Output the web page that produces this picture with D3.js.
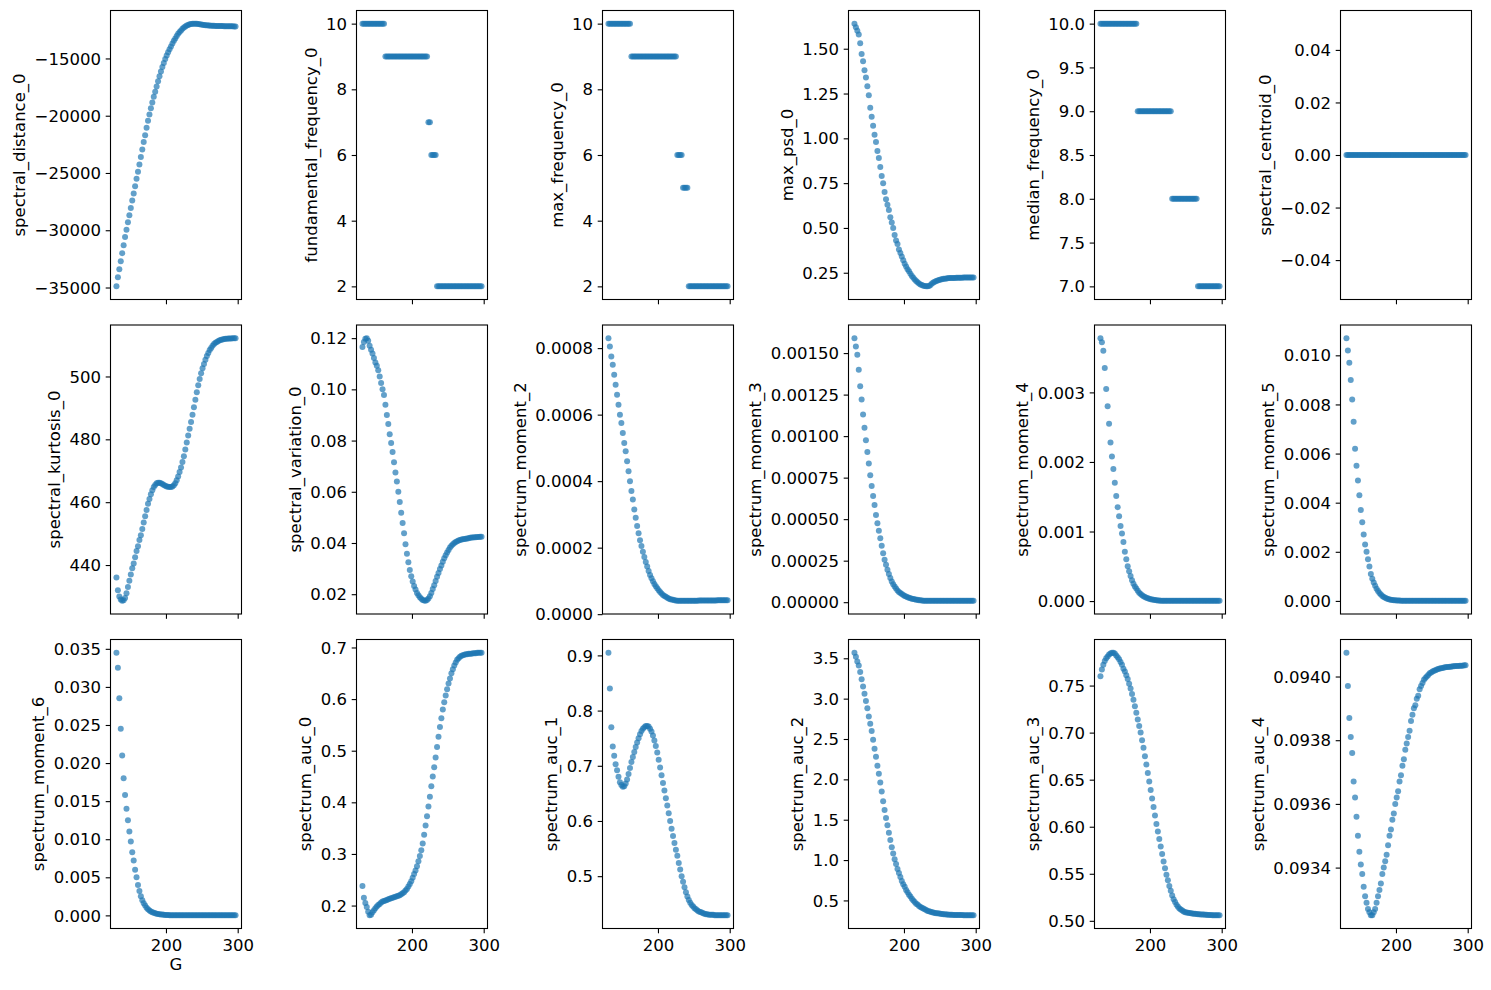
<!DOCTYPE html>
<html>
<head>
<meta charset="utf-8">
<script src="https://cdn.jsdelivr.net/npm/d3@7"></script>
<style>
  body { margin: 0; background: #fff; }
  svg { display: block; }
</style>
</head>
<body>
<div id="chart"></div>
<script>
// G values shared by every panel
const G = [131,133,135,137,139,141,143,145,147,149,151,153,
  155,157,159,161,163,165,167,169,171,173,175,177,
  179,181,183,185,187,189,191,193,195,197,199,201,
  203,205,207,209,211,213,215,217,219,221,223,225,
  227,229,231,233,235,237,239,241,243,245,247,249,
  251,253,255,257,259,261,263,265,267,269,271,273,
  275,277,279,281,283,285,287,289,291,293,295,297];

const spectral_distance_0 = [-34900,-34100,-33400,-32700,-32000,-31300,-30600,-29950,-29300,-28700,-28050,-27400,
  -26800,-26150,-25500,-24900,-24250,-23600,-22950,-22300,-21700,-21050,-20450,-19900,
  -19350,-18850,-18350,-17900,-17450,-17000,-16550,-16150,-15750,-15400,-15050,-14750,
  -14450,-14200,-13950,-13700,-13450,-13250,-13050,-12850,-12700,-12550,-12400,-12300,
  -12200,-12130,-12070,-12020,-11990,-11970,-11960,-11960,-11970,-11990,-12010,-12040,
  -12060,-12080,-12100,-12110,-12120,-12130,-12140,-12150,-12150,-12160,-12160,-12160,
  -12170,-12170,-12170,-12180,-12180,-12180,-12180,-12190,-12190,-12190,-12200,-12200];

const fundamental_frequency_0 = [10,10,10,10,10,10,10,10,10,10,10,10,
  10,10,10,10,9,9,9,9,9,9,9,9,
  9,9,9,9,9,9,9,9,9,9,9,9,
  9,9,9,9,9,9,9,9,9,9,7,7,
  6,6,6,6,2,2,2,2,2,2,2,2,
  2,2,2,2,2,2,2,2,2,2,2,2,
  2,2,2,2,2,2,2,2,2,2,2,2];

const max_frequency_0 = [10,10,10,10,10,10,10,10,10,10,10,10,
  10,10,10,10,9,9,9,9,9,9,9,9,
  9,9,9,9,9,9,9,9,9,9,9,9,
  9,9,9,9,9,9,9,9,9,9,9,9,
  6,6,6,6,5,5,5,5,2,2,2,2,
  2,2,2,2,2,2,2,2,2,2,2,2,
  2,2,2,2,2,2,2,2,2,2,2,2];

const max_psd_0 = [1.640,1.620,1.600,1.580,1.530,1.470,1.430,1.380,1.340,1.290,1.240,1.170,
  1.120,1.070,1.020,0.980,0.930,0.890,0.840,0.790,0.750,0.700,0.660,0.630,
  0.600,0.560,0.530,0.500,0.460,0.430,0.410,0.380,0.360,0.340,0.320,0.300,
  0.285,0.270,0.258,0.245,0.232,0.222,0.212,0.204,0.197,0.190,0.185,0.181,
  0.178,0.176,0.175,0.174,0.176,0.182,0.190,0.196,0.200,0.204,0.207,0.210,
  0.212,0.214,0.216,0.217,0.218,0.219,0.220,0.220,0.221,0.221,0.221,0.222,
  0.222,0.222,0.222,0.222,0.223,0.223,0.223,0.223,0.223,0.223,0.223,0.223];

const median_frequency_0 = [10,10,10,10,10,10,10,10,10,10,10,10,
  10,10,10,10,10,10,10,10,10,10,10,10,
  10,10,9,9,9,9,9,9,9,9,9,9,
  9,9,9,9,9,9,9,9,9,9,9,9,
  9,9,8,8,8,8,8,8,8,8,8,8,
  8,8,8,8,8,8,8,8,7,7,7,7,
  7,7,7,7,7,7,7,7,7,7,7,7];

const spectral_centroid_0 = [0,0,0,0,0,0,0,0,0,0,0,0,
  0,0,0,0,0,0,0,0,0,0,0,0,
  0,0,0,0,0,0,0,0,0,0,0,0,
  0,0,0,0,0,0,0,0,0,0,0,0,
  0,0,0,0,0,0,0,0,0,0,0,0,
  0,0,0,0,0,0,0,0,0,0,0,0,
  0,0,0,0,0,0,0,0,0,0,0,0];

const spectral_kurtosis_0 = [436,432,430,429,428.6,428.8,429.5,431,433,435,437,439,
  440.5,442.5,444.5,446,448,449.5,451.5,453.5,455.5,457.5,459.5,461,
  462.5,463.8,464.8,465.5,466,466.2,466.2,466,465.8,465.5,465.2,465,
  464.9,464.8,464.8,465,465.4,466,467,468.2,469.6,471,472.8,474.6,
  476.8,479,481.2,483.4,485.5,487.8,490.2,492.6,495,497.2,499.2,501,
  502.6,504,505.3,506.5,507.5,508.4,509.1,509.8,510.3,510.7,511,511.3,
  511.5,511.7,511.8,511.9,512,512,512.1,512.1,512.1,512.2,512.2,512.2];

const spectral_variation_0 = [0.1165,0.1185,0.1198,0.1200,0.1190,0.1170,0.1155,0.1140,0.1122,0.1105,0.1092,0.1075,
  0.1050,0.1025,0.1000,0.0978,0.0940,0.0900,0.0865,0.0825,0.0790,0.0755,0.0715,0.0675,
  0.0640,0.0600,0.0560,0.0518,0.0478,0.0438,0.0395,0.0358,0.0325,0.0295,0.0270,0.0250,
  0.0232,0.0218,0.0205,0.0196,0.0188,0.0182,0.0177,0.0175,0.0174,0.0177,0.0183,0.0192,
  0.0205,0.0220,0.0235,0.0252,0.0268,0.0283,0.0298,0.0312,0.0327,0.0340,0.0352,0.0363,
  0.0373,0.0382,0.0389,0.0395,0.0400,0.0404,0.0407,0.0410,0.0412,0.0414,0.0415,0.0416,
  0.0417,0.0418,0.0419,0.0420,0.0421,0.0421,0.0422,0.0422,0.0423,0.0423,0.0424,0.0424];

const spectrum_moment_2 = [8.30e-4,8.05e-4,7.75e-4,7.50e-4,7.20e-4,6.90e-4,6.60e-4,6.30e-4,6.00e-4,5.75e-4,5.45e-4,5.15e-4,
  4.90e-4,4.60e-4,4.30e-4,4.00e-4,3.70e-4,3.45e-4,3.15e-4,2.90e-4,2.65e-4,2.43e-4,2.22e-4,2.05e-4,
  1.88e-4,1.72e-4,1.57e-4,1.43e-4,1.30e-4,1.18e-4,1.08e-4,9.9e-5,9.1e-5,8.4e-5,7.8e-5,7.2e-5,
  6.7e-5,6.2e-5,5.8e-5,5.5e-5,5.2e-5,4.9e-5,4.7e-5,4.5e-5,4.4e-5,4.3e-5,4.2e-5,4.1e-5,
  4.05e-5,4.0e-5,4.0e-5,4.0e-5,4.0e-5,4.0e-5,4.0e-5,4.0e-5,4.0e-5,4.0e-5,4.0e-5,4.0e-5,
  4.0e-5,4.0e-5,4.0e-5,4.1e-5,4.1e-5,4.1e-5,4.1e-5,4.1e-5,4.1e-5,4.1e-5,4.1e-5,4.1e-5,
  4.1e-5,4.1e-5,4.1e-5,4.1e-5,4.15e-5,4.15e-5,4.15e-5,4.15e-5,4.2e-5,4.2e-5,4.2e-5,4.2e-5];

const spectrum_moment_3 = [1.59e-3,1.54e-3,1.49e-3,1.40e-3,1.30e-3,1.22e-3,1.13e-3,1.05e-3,9.75e-4,9.05e-4,8.35e-4,7.65e-4,
  7.00e-4,6.40e-4,5.85e-4,5.25e-4,4.75e-4,4.30e-4,3.85e-4,3.40e-4,2.95e-4,2.55e-4,2.25e-4,1.95e-4,
  1.70e-4,1.45e-4,1.25e-4,1.08e-4,9.4e-5,8.2e-5,7.1e-5,6.2e-5,5.5e-5,4.9e-5,4.3e-5,3.8e-5,
  3.4e-5,3.0e-5,2.7e-5,2.4e-5,2.1e-5,1.9e-5,1.7e-5,1.5e-5,1.4e-5,1.2e-5,1.1e-5,1.0e-5,
  9e-6,9e-6,9e-6,9e-6,9e-6,9e-6,9e-6,9e-6,9e-6,9e-6,9e-6,9e-6,
  8e-6,8e-6,8e-6,8e-6,8e-6,8e-6,8e-6,8e-6,8e-6,8e-6,8e-6,8e-6,
  8e-6,8e-6,8e-6,8e-6,8e-6,8e-6,8e-6,8e-6,8e-6,8e-6,8e-6,8e-6];

const spectrum_moment_4 = [3.78e-3,3.72e-3,3.60e-3,3.35e-3,3.05e-3,2.80e-3,2.55e-3,2.28e-3,2.08e-3,1.90e-3,1.70e-3,1.51e-3,
  1.35e-3,1.22e-3,1.08e-3,9.7e-4,8.5e-4,7.1e-4,6.0e-4,5.0e-4,4.3e-4,3.6e-4,3.0e-4,2.5e-4,
  2.1e-4,1.8e-4,1.5e-4,1.2e-4,1.0e-4,8.5e-5,7.0e-5,5.8e-5,4.8e-5,4.0e-5,3.3e-5,2.7e-5,
  2.2e-5,1.8e-5,1.4e-5,1.1e-5,9e-6,7e-6,6e-6,5e-6,5e-6,4e-6,4e-6,4e-6,
  4e-6,4e-6,4e-6,4e-6,4e-6,4e-6,4e-6,4e-6,4e-6,4e-6,4e-6,4e-6,
  3e-6,3e-6,3e-6,3e-6,3e-6,3e-6,3e-6,3e-6,3e-6,3e-6,3e-6,3e-6,
  3e-6,3e-6,3e-6,3e-6,3e-6,3e-6,3e-6,3e-6,3e-6,3e-6,3e-6,3e-6];

const spectrum_moment_5 = [1.07e-2,1.02e-2,9.7e-3,9.0e-3,8.2e-3,7.3e-3,6.2e-3,5.5e-3,4.9e-3,4.3e-3,3.7e-3,3.2e-3,
  2.7e-3,2.3e-3,2.0e-3,1.7e-3,1.4e-3,1.1e-3,9.0e-4,7.5e-4,6.2e-4,5.0e-4,4.0e-4,3.2e-4,
  2.6e-4,2.0e-4,1.6e-4,1.3e-4,1.0e-4,8e-5,6e-5,5e-5,4e-5,3e-5,2.5e-5,2e-5,
  1.6e-5,1.3e-5,1.0e-5,8e-6,7e-6,6e-6,5e-6,4e-6,4e-6,3e-6,3e-6,3e-6,
  3e-6,3e-6,3e-6,3e-6,3e-6,3e-6,3e-6,3e-6,3e-6,3e-6,3e-6,3e-6,
  2e-6,2e-6,2e-6,2e-6,2e-6,2e-6,2e-6,2e-6,2e-6,2e-6,2e-6,2e-6,
  2e-6,2e-6,2e-6,2e-6,2e-6,2e-6,2e-6,2e-6,2e-6,2e-6,2e-6,2e-6];

const spectrum_moment_6 = [3.45e-2,3.25e-2,2.85e-2,2.45e-2,2.10e-2,1.80e-2,1.58e-2,1.40e-2,1.25e-2,1.10e-2,9.7e-3,8.3e-3,
  7.2e-3,6.0e-3,5.0e-3,4.0e-3,3.2e-3,2.5e-3,2.0e-3,1.6e-3,1.3e-3,1.0e-3,8.0e-4,6.5e-4,
  5.2e-4,4.2e-4,3.4e-4,2.8e-4,2.3e-4,1.9e-4,1.6e-4,1.3e-4,1.0e-4,8e-5,6e-5,5e-5,
  4e-5,3.3e-5,2.7e-5,2.2e-5,1.8e-5,1.5e-5,1.2e-5,1e-5,8e-6,7e-6,6e-6,5e-6,
  4e-6,4e-6,4e-6,4e-6,4e-6,3e-6,3e-6,3e-6,3e-6,3e-6,3e-6,3e-6,
  3e-6,3e-6,2e-6,2e-6,2e-6,2e-6,2e-6,2e-6,2e-6,2e-6,2e-6,2e-6,
  2e-6,2e-6,2e-6,2e-6,2e-6,2e-6,2e-6,2e-6,2e-6,2e-6,2e-6,2e-6];

const spectrum_auc_0 = [0.238,0.215,0.205,0.197,0.188,0.181,0.182,0.187,0.191,0.195,0.198,0.201,
  0.203,0.206,0.208,0.209,0.210,0.211,0.212,0.213,0.214,0.215,0.216,0.217,
  0.218,0.219,0.220,0.222,0.224,0.226,0.229,0.232,0.237,0.242,0.247,0.254,
  0.261,0.268,0.276,0.286,0.296,0.307,0.320,0.337,0.355,0.373,0.392,0.411,
  0.431,0.450,0.468,0.487,0.507,0.527,0.546,0.563,0.580,0.594,0.607,0.619,
  0.630,0.640,0.650,0.658,0.665,0.671,0.676,0.679,0.682,0.684,0.685,0.686,
  0.687,0.687,0.688,0.688,0.688,0.689,0.689,0.689,0.690,0.690,0.690,0.690];

const spectrum_auc_1 = [0.905,0.840,0.770,0.735,0.718,0.703,0.692,0.680,0.670,0.665,0.662,0.663,
  0.668,0.675,0.685,0.696,0.707,0.716,0.725,0.734,0.742,0.750,0.757,0.763,
  0.767,0.770,0.772,0.772,0.771,0.767,0.762,0.755,0.746,0.736,0.724,0.711,
  0.697,0.683,0.669,0.655,0.641,0.628,0.614,0.600,0.586,0.573,0.560,0.548,
  0.537,0.524,0.512,0.500,0.490,0.480,0.471,0.463,0.457,0.452,0.448,0.445,
  0.442,0.440,0.438,0.436,0.435,0.434,0.433,0.432,0.431,0.431,0.430,0.430,
  0.430,0.430,0.429,0.429,0.429,0.429,0.429,0.429,0.429,0.429,0.429,0.429];

const spectrum_auc_2 = [3.57,3.52,3.46,3.41,3.33,3.24,3.15,3.06,2.97,2.88,2.78,2.69,
  2.60,2.49,2.38,2.28,2.17,2.07,1.96,1.85,1.73,1.62,1.52,1.43,
  1.34,1.25,1.16,1.08,1.01,0.95,0.89,0.84,0.79,0.74,0.70,0.67,
  0.63,0.60,0.57,0.55,0.52,0.50,0.48,0.46,0.45,0.43,0.42,0.41,
  0.40,0.39,0.38,0.37,0.365,0.36,0.355,0.35,0.345,0.342,0.34,0.337,
  0.334,0.332,0.330,0.328,0.326,0.325,0.324,0.323,0.322,0.321,0.320,0.320,
  0.319,0.319,0.318,0.318,0.317,0.317,0.316,0.316,0.316,0.315,0.315,0.315];

const spectrum_auc_3 = [0.760,0.767,0.772,0.776,0.779,0.781,0.783,0.784,0.785,0.785,0.784,0.782,
  0.780,0.778,0.775,0.772,0.768,0.765,0.761,0.757,0.752,0.747,0.741,0.735,
  0.728,0.721,0.714,0.707,0.700,0.692,0.684,0.675,0.666,0.657,0.648,0.639,
  0.630,0.621,0.612,0.603,0.595,0.587,0.579,0.571,0.563,0.556,0.549,0.543,
  0.537,0.532,0.527,0.523,0.520,0.517,0.515,0.513,0.512,0.511,0.510,0.509,
  0.5088,0.5085,0.5082,0.5080,0.5078,0.5076,0.5074,0.5072,0.5070,0.5069,0.5068,0.5067,
  0.5066,0.5065,0.5064,0.5063,0.5062,0.5061,0.5060,0.5060,0.5059,0.5059,0.5058,0.5058];

const spectrum_auc_4 = [0.094075,0.09397,0.09387,0.09381,0.09376,0.09367,0.09362,0.09356,0.09350,0.09345,0.09341,0.09338,
  0.09334,0.09331,0.09329,0.09327,0.09326,0.09325,0.09325,0.09326,0.09327,0.09329,0.09331,0.09333,
  0.09335,0.09338,0.09340,0.09342,0.09344,0.09347,0.09350,0.09352,0.09355,0.09357,0.09360,0.09362,
  0.09364,0.09367,0.09369,0.09372,0.09374,0.09377,0.09379,0.09381,0.09383,0.09386,0.09388,0.09390,
  0.09391,0.09393,0.09394,0.09396,0.09397,0.09398,0.09399,0.093995,0.09400,0.094005,0.09401,0.094013,
  0.094016,0.094018,0.09402,0.094022,0.094024,0.094025,0.094026,0.094027,0.094028,0.094029,0.09403,0.09403,
  0.094031,0.094031,0.094032,0.094032,0.094033,0.094033,0.094033,0.094034,0.094034,0.094034,0.094035,0.094035];

// tick values for each panel
const xTicks = [200, 300];
const ticks_distance = [-35000, -30000, -25000, -20000, -15000];
const ticks_freq = [2, 4, 6, 8, 10];
const ticks_psd = [0.25, 0.50, 0.75, 1.00, 1.25, 1.50];
const ticks_median = [7.0, 7.5, 8.0, 8.5, 9.0, 9.5, 10.0];
const ticks_centroid = [-0.04, -0.02, 0.00, 0.02, 0.04];
const ticks_kurtosis = [440, 460, 480, 500];
const ticks_variation = [0.02, 0.04, 0.06, 0.08, 0.10, 0.12];
const ticks_m2 = [0, 0.0002, 0.0004, 0.0006, 0.0008];
const ticks_m3 = [0, 0.00025, 0.0005, 0.00075, 0.001, 0.00125, 0.0015];
const ticks_m4 = [0, 0.001, 0.002, 0.003];
const ticks_m5 = [0, 0.002, 0.004, 0.006, 0.008, 0.010];
const ticks_m6 = [0, 0.005, 0.010, 0.015, 0.020, 0.025, 0.030, 0.035];
const ticks_auc0 = [0.2, 0.3, 0.4, 0.5, 0.6, 0.7];
const ticks_auc1 = [0.5, 0.6, 0.7, 0.8, 0.9];
const ticks_auc2 = [0.5, 1.0, 1.5, 2.0, 2.5, 3.0, 3.5];
const ticks_auc3 = [0.50, 0.55, 0.60, 0.65, 0.70, 0.75];
const ticks_auc4 = [0.0934, 0.0936, 0.0938, 0.0940];

const panels = [
  ["spectral_distance_0", spectral_distance_0, ticks_distance, "d"],
  ["fundamental_frequency_0", fundamental_frequency_0, ticks_freq, "d"],
  ["max_frequency_0", max_frequency_0, ticks_freq, "d"],
  ["max_psd_0", max_psd_0, ticks_psd, ".2f"],
  ["median_frequency_0", median_frequency_0, ticks_median, ".1f"],
  ["spectral_centroid_0", spectral_centroid_0, ticks_centroid, ".2f"],
  ["spectral_kurtosis_0", spectral_kurtosis_0, ticks_kurtosis, "d"],
  ["spectral_variation_0", spectral_variation_0, ticks_variation, ".2f"],
  ["spectrum_moment_2", spectrum_moment_2, ticks_m2, ".4f"],
  ["spectrum_moment_3", spectrum_moment_3, ticks_m3, ".5f"],
  ["spectrum_moment_4", spectrum_moment_4, ticks_m4, ".3f"],
  ["spectrum_moment_5", spectrum_moment_5, ticks_m5, ".3f"],
  ["spectrum_moment_6", spectrum_moment_6, ticks_m6, ".3f"],
  ["spectrum_auc_0", spectrum_auc_0, ticks_auc0, ".1f"],
  ["spectrum_auc_1", spectrum_auc_1, ticks_auc1, ".1f"],
  ["spectrum_auc_2", spectrum_auc_2, ticks_auc2, ".1f"],
  ["spectrum_auc_3", spectrum_auc_3, ticks_auc3, ".2f"],
  ["spectrum_auc_4", spectrum_auc_4, ticks_auc4, ".4f"]
];

// figure layout (matplotlib-like tight grid)
const width = 1491, height = 990;
const colLeft = [110.5, 356.5, 602.5, 848.5, 1094.5, 1340.5];
const rowTop = [10.5, 325, 639.5];
const axW = 131, axH = 289;
const fontSize = 16.5;
const font = "DejaVu Sans, sans-serif";
const tickLen = 4.8, tickPad = 4.8;
const color = "#1f77b4";

// data limits with 5% margins, like matplotlib
function padded(vals) {
  let [lo, hi] = d3.extent(vals);
  if (lo === hi) { lo -= 0.05; hi += 0.05; }
  const m = (hi - lo) * 0.05;
  return [lo - m, hi + m];
}

const svg = d3.select("#chart").append("svg")
  .attr("width", width)
  .attr("height", height)
  .style("background", "#fff");

const x = d3.scaleLinear().domain(padded(G)).range([0, axW]);

panels.forEach(([name, values, ticks, fmt], i) => {
  const r = Math.floor(i / 6), c = i % 6;
  const g = svg.append("g").attr("transform", `translate(${colLeft[c]},${rowTop[r]})`);
  const y = d3.scaleLinear().domain(padded(values)).range([axH, 0]);

  g.append("g").selectAll("circle")
    .data(G.map((gv, k) => [gv, values[k]]))
    .enter().append("circle")
    .attr("cx", d => x(d[0]))
    .attr("cy", d => y(d[1]))
    .attr("r", 3)
    .attr("fill", color)
    .attr("fill-opacity", 0.7);

  // y axis
  const yAx = g.append("g")
    .call(d3.axisLeft(y).tickValues(ticks).tickFormat(d3.format(fmt))
      .tickSize(tickLen).tickPadding(tickPad));
  yAx.select(".domain").remove();
  yAx.attr("font-family", font).attr("font-size", fontSize);
  yAx.selectAll("line").attr("stroke", "#000").attr("stroke-width", 1.1);
  yAx.selectAll("text").attr("fill", "#000").attr("dy", "0.34em");

  // x axis, labels only on bottom row
  const xAxis = d3.axisBottom(x).tickValues(xTicks).tickSize(tickLen).tickPadding(tickPad);
  if (r < 2) xAxis.tickFormat(() => "");
  const xAx = g.append("g")
    .attr("transform", `translate(0,${axH})`)
    .call(xAxis);
  xAx.select(".domain").remove();
  xAx.attr("font-family", font).attr("font-size", fontSize);
  xAx.selectAll("line").attr("stroke", "#000").attr("stroke-width", 1.1);
  xAx.selectAll("text").attr("fill", "#000").attr("dy", "0.8em");

  // frame
  g.append("rect")
    .attr("width", axW)
    .attr("height", axH)
    .attr("fill", "none")
    .attr("stroke", "#000")
    .attr("stroke-width", 1.1);

  // y label placed left of the widest tick label
  let minX = 0;
  yAx.selectAll("text").each(function() {
    const b = this.getBBox();
    minX = Math.min(minX, b.x);
  });
  g.append("text")
    .attr("transform", `translate(${minX - 5.5 - 3.9},${axH / 2}) rotate(-90)`)
    .attr("text-anchor", "middle")
    .attr("font-family", font)
    .attr("font-size", fontSize)
    .attr("fill", "#000")
    .text(name);

  if (r === 2 && c === 0) {
    g.append("text")
      .attr("x", axW / 2)
      .attr("y", axH + 41.5)
      .attr("text-anchor", "middle")
      .attr("font-family", font)
      .attr("font-size", fontSize)
      .attr("fill", "#000")
      .text("G");
  }
});
</script>
</body>
</html>
